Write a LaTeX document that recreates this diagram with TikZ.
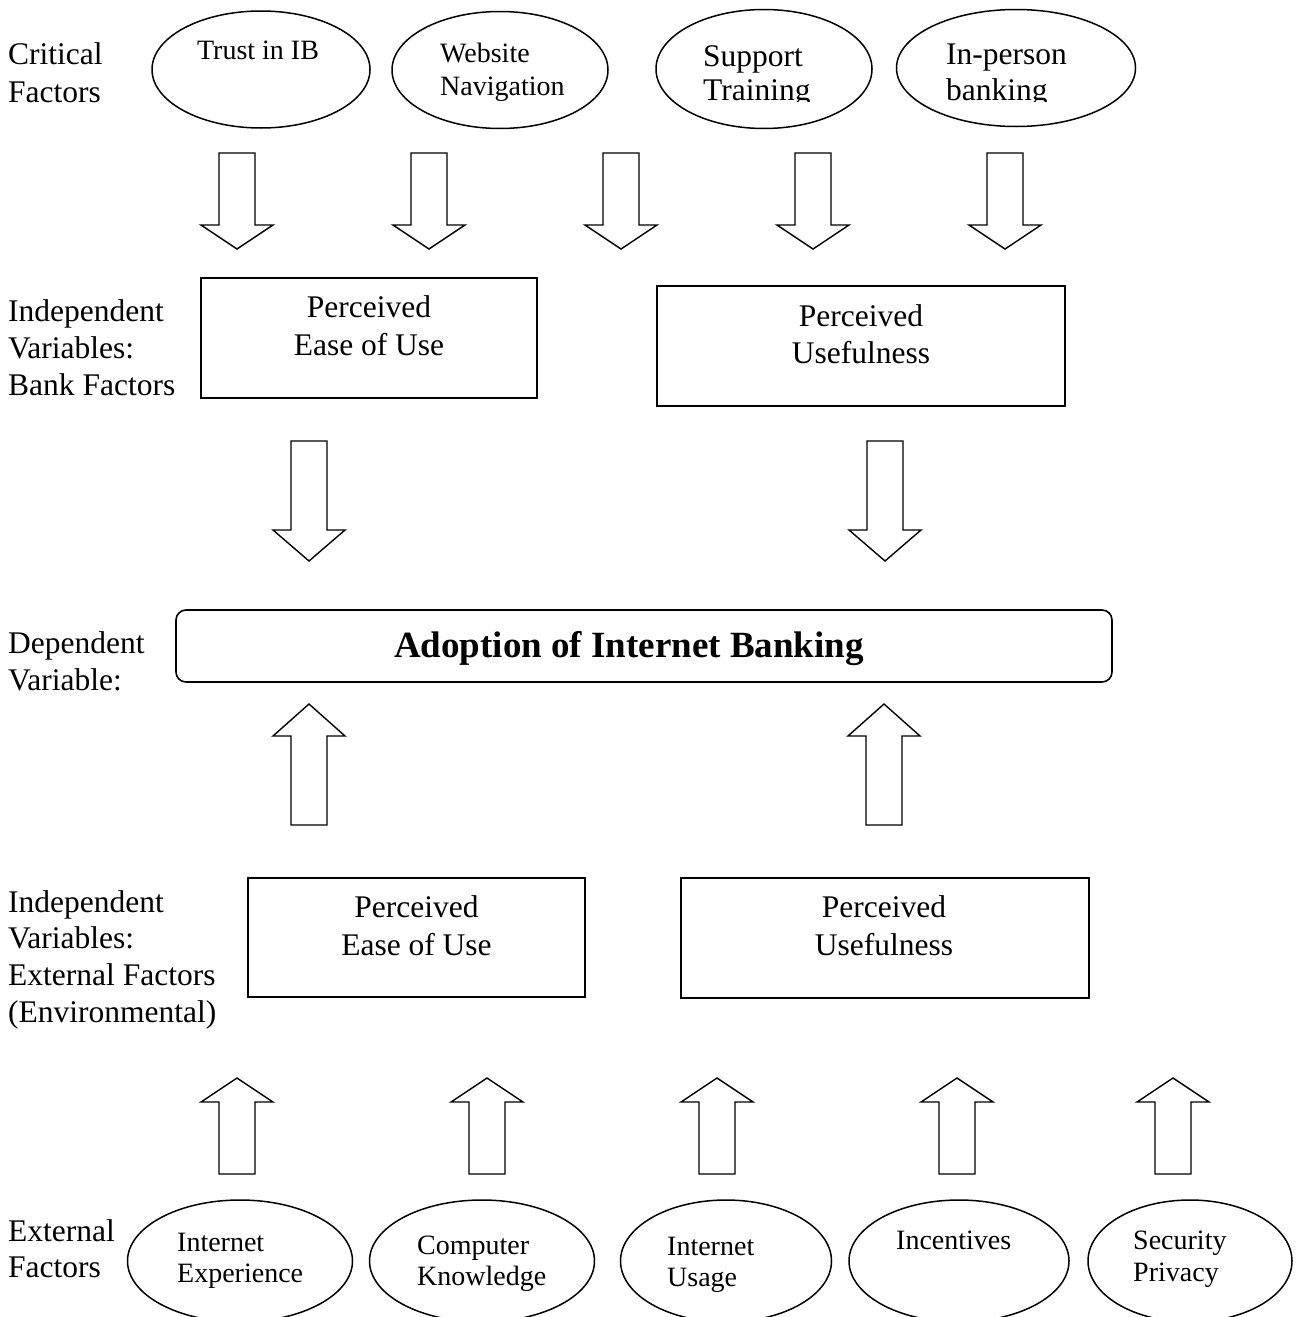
\documentclass[tikz,border=0pt]{standalone}
\usepackage{fontspec}
\setmainfont{Liberation Serif}
\usetikzlibrary{shapes.geometric}
\newcommand\fsLab{\fontsize{31.5}{37}\selectfont}
\newcommand\fsSm{\fontsize{28}{33}\selectfont}
\newcommand\fsBig{\fontsize{37}{44}\selectfont\bfseries}
\newcommand\barrow[4]{\draw[blockarrow] (#1-18,#2) -- (#1+18,#2) -- (#1+18,#3) -- (#1+36,#3) -- (#1,#4) -- (#1-36,#3) -- (#1-18,#3) -- cycle;}
\begin{document}
\begin{tikzpicture}[x=1pt,y=-1pt,
  txt/.style={inner sep=0pt,font=\fsLab},
  stxt/.style={inner sep=0pt,font=\fsSm},
  oval/.style={draw,ellipse,line width=1.5pt,inner sep=0pt},
  rbox/.style={draw,rectangle,line width=1.8pt,inner sep=0pt},
  blockarrow/.style={draw,fill=white,line width=1.4pt,line join=miter}]
\useasboundingbox (0,0) rectangle (1303,1317);
% left labels
\node[txt,anchor=base west] (crit1) at (8,64) {Critical};
\node[txt,anchor=base west] (crit2) at (8,102) {Factors};
\node[txt,anchor=base west] (bank1) at (8,321) {Independent};
\node[txt,anchor=base west] (bank2) at (8,358) {Variables:};
\node[txt,anchor=base west] (bank3) at (8,395) {Bank Factors};
\node[txt,anchor=base west] (dep1) at (8,653) {Dependent};
\node[txt,anchor=base west] (dep2) at (8,690) {Variable:};
\node[txt,anchor=base west] (env1) at (8,912) {Independent};
\node[txt,anchor=base west] (env2) at (8,948) {Variables:};
\node[txt,anchor=base west] (env3) at (8,985) {External Factors};
\node[txt,anchor=base west] (env4) at (8,1022) {(Environmental)};
\node[txt,anchor=base west] (ext1) at (8,1241) {External};
\node[txt,anchor=base west] (ext2) at (8,1277) {Factors};
% top ellipses
\node[oval,minimum width=218pt,minimum height=117pt] (trust) at (261,69.5) {};
\node[oval,minimum width=216pt,minimum height=117pt] (web) at (500,70) {};
\node[oval,minimum width=216pt,minimum height=119pt] (supp) at (764,69) {};
\node[oval,minimum width=239pt,minimum height=117pt] (inper) at (1016,68) {};
\node[stxt,anchor=base] (trustT) at (258,59) {Trust in IB};
\node[stxt,anchor=base west] (webT1) at (440,62) {Website};
\node[stxt,anchor=base west] (webT2) at (440,95) {Navigation};
\begin{scope}
\clip (640,0) rectangle (1150,101);
\node[txt,anchor=base west] (suppT1) at (703,66) {Support};
\node[txt,anchor=base west] (suppT2) at (703,100) {Training};
\node[txt,anchor=base west] (inperT1) at (946,64) {In-person};
\node[txt,anchor=base west] (inperT2) at (946,100) {banking};
\end{scope}
% row 1 arrows
\foreach \cx in {237,429,621,813,1005} {\barrow{\cx}{153}{225}{249}}
% bank factor boxes
\node[rbox,minimum width=336pt,minimum height=120pt] (peou1) at (369,338) {};
\node[txt,anchor=base] (peou1a) at (369,317) {Perceived};
\node[txt,anchor=base] (peou1b) at (369,355) {Ease of Use};
\node[rbox,minimum width=408pt,minimum height=120pt] (pu1) at (861,346) {};
\node[txt,anchor=base] (pu1a) at (861,326) {Perceived};
\node[txt,anchor=base] (pu1b) at (861,363) {Usefulness};
% row 2 arrows
\barrow{309}{441}{530}{561}
\barrow{885}{441}{530}{561}
% dependent
\node[rbox,rounded corners=10pt,line width=1.6pt,minimum width=936pt,minimum height=72pt] (adopt) at (644,646) {};
\node[inner sep=0pt,font=\fsBig,anchor=base] (adoptT) at (629,657) {Adoption of Internet Banking};
% row 3 arrows
\barrow{309}{825}{736}{704}
\barrow{884}{825}{736}{704}
% external factor boxes
\node[rbox,minimum width=337pt,minimum height=119pt] (peou2) at (416.5,937.5) {};
\node[txt,anchor=base] (peou2a) at (416.5,917) {Perceived};
\node[txt,anchor=base] (peou2b) at (416.5,955) {Ease of Use};
\node[rbox,minimum width=408pt,minimum height=120pt] (pu2) at (885,938) {};
\node[txt,anchor=base] (pu2a) at (884,917) {Perceived};
\node[txt,anchor=base] (pu2b) at (884,955) {Usefulness};
% row 4 arrows
\foreach \cx in {237,487,717,957,1173} {\barrow{\cx}{1174}{1102}{1078}}
% bottom ellipses
\node[oval,minimum width=225pt,minimum height=122pt] (iexp) at (240,1261) {};
\node[oval,minimum width=225pt,minimum height=122pt] (comp) at (482,1261) {};
\node[oval,minimum width=211pt,minimum height=122pt] (iuse) at (726,1261) {};
\node[oval,minimum width=220pt,minimum height=122pt] (inc) at (959,1261) {};
\node[oval,minimum width=204pt,minimum height=122pt] (sec) at (1190,1261) {};
\node[stxt,anchor=base west] (iexpT1) at (177,1251) {Internet};
\node[stxt,anchor=base west] (iexpT2) at (177,1282) {Experience};
\node[stxt,anchor=base west] (compT1) at (417,1254) {Computer};
\node[stxt,anchor=base west] (compT2) at (417,1285) {Knowledge};
\node[stxt,anchor=base west] (iuseT1) at (667,1255) {Internet};
\node[stxt,anchor=base west] (iuseT2) at (667,1286) {Usage};
\node[stxt,anchor=base west] (incT) at (896,1249) {Incentives};
\node[stxt,anchor=base west] (secT1) at (1133,1249) {Security};
\node[stxt,anchor=base west] (secT2) at (1133,1281) {Privacy};
\end{tikzpicture}
\end{document}
